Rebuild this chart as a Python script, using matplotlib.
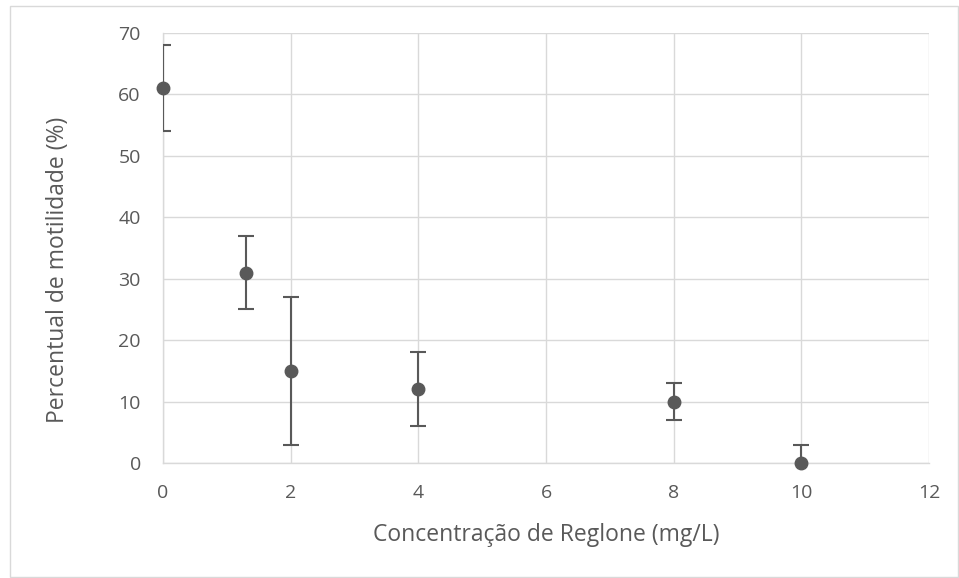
import matplotlib.pyplot as plt
from matplotlib.patches import Rectangle

# Data
concentracao = [0, 1.3, 2, 4, 8, 10]
motilidade = [61, 31, 15, 12, 10, 0]
erro = [7, 6, 12, 6, 3, 3]

x_ticks = [0, 2, 4, 6, 8, 10, 12]
y_ticks = [0, 10, 20, 30, 40, 50, 60, 70]

text_color = '#595959'
grid_color = '#d9d9d9'
mark_color = '#595959'

plt.rcParams['font.family'] = ['Open Sans', 'DejaVu Sans']

fig = plt.figure(figsize=(9.59, 5.78), dpi=100)
fig.patch.set_facecolor('white')

# outer chart border
fig.patches.append(Rectangle((10 / 959, 1 / 578), 948 / 959, 571 / 578,
                             transform=fig.transFigure, fill=False,
                             edgecolor='#d9d9d9', linewidth=1.0))

ax = fig.add_axes([163 / 959, 115 / 578, 766 / 959, 430 / 578])

# error bars are clipped by the plot area, markers are not
ax.errorbar(concentracao, motilidade, yerr=erro, fmt='none',
            ecolor=mark_color, elinewidth=1.5, capsize=5.5, capthick=1.5,
            zorder=4)
ax.plot(concentracao, motilidade, 'o', color=mark_color, markersize=9,
        zorder=5, clip_on=False)

ax.set_xlim(0, 12)
ax.set_ylim(0, 70)
ax.set_xticks(x_ticks)
ax.set_yticks(y_ticks)
ax.grid(True, color=grid_color, linewidth=1.0)
ax.set_axisbelow(True)
for side in ['top', 'right']:
    ax.spines[side].set_visible(False)
for side in ['left', 'bottom']:
    ax.spines[side].set_color(grid_color)
    ax.spines[side].set_linewidth(1.0)

ax.tick_params(axis='both', length=0, labelsize=14, colors=text_color)
ax.tick_params(axis='x', pad=15)
ax.tick_params(axis='y', pad=16)

ax.set_xlabel('Concentração de Reglone (mg/L)', fontsize=16.5,
              color=text_color)
ax.set_ylabel('Percentual de motilidade (%)', fontsize=16.5,
              color=text_color)
ax.xaxis.label.set_va('center')
ax.yaxis.label.set_va('center')
ax.xaxis.set_label_coords(0.5, -0.167)
ax.yaxis.set_label_coords(-0.137, 0.449)

fig.savefig('out.png', dpi=100, facecolor='white')
